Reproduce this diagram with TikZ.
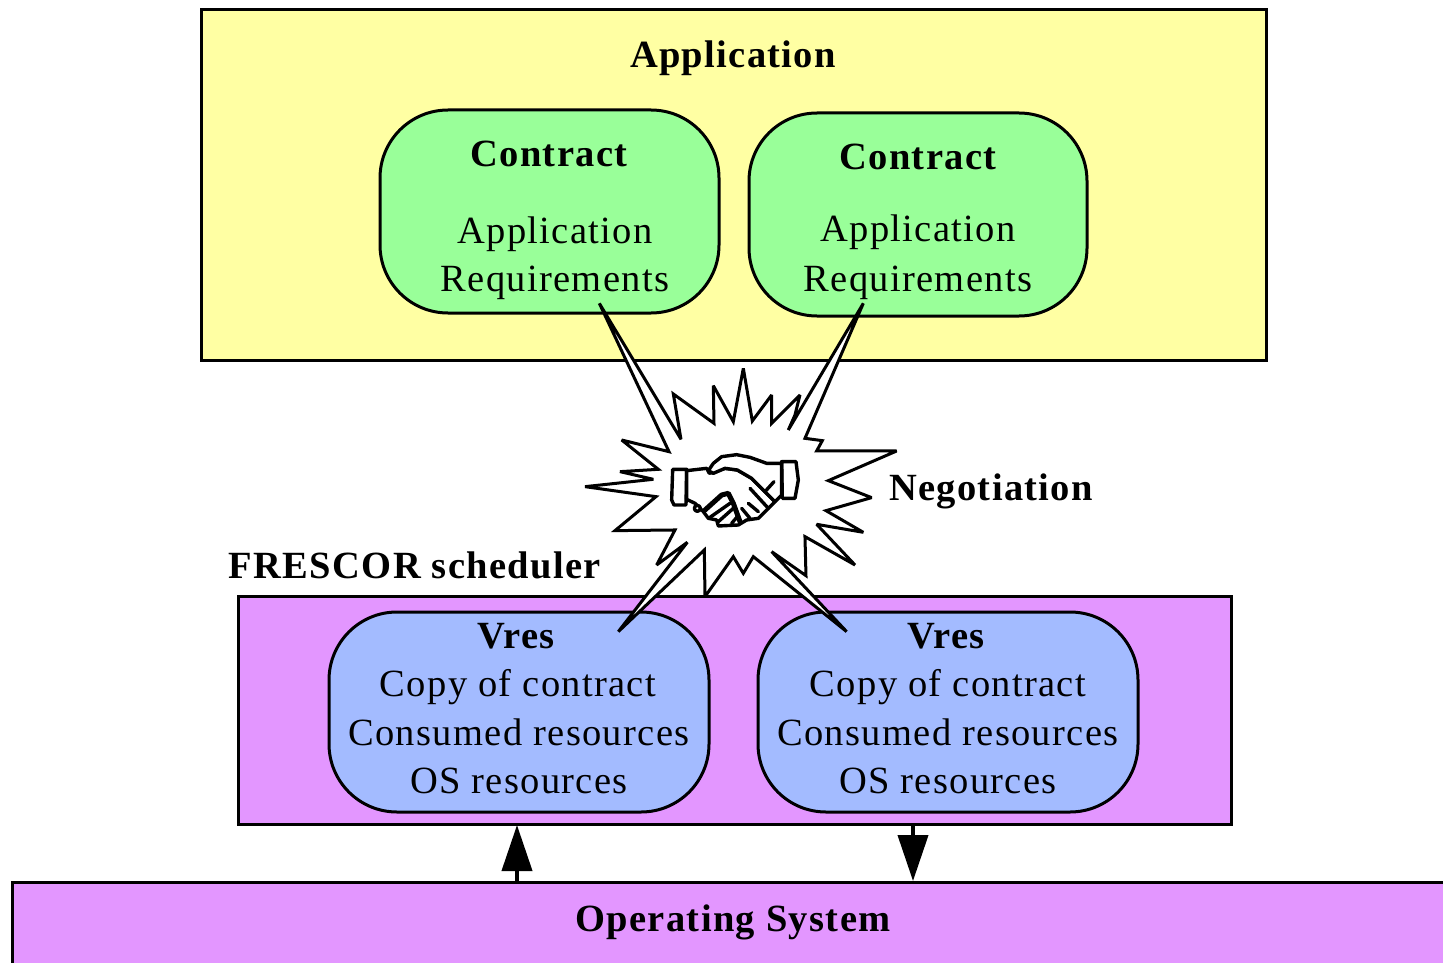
\documentclass[tikz,border=0pt]{standalone}
\usepackage{fontspec}
\setmainfont[LetterSpace=3.5]{Liberation Serif}
\usetikzlibrary{arrows.meta}
\definecolor{appyellow}{HTML}{FFFFA3}
\definecolor{contractgreen}{HTML}{99FF99}
\definecolor{schedviolet}{HTML}{E396FF}
\definecolor{vresblue}{HTML}{A3BBFF}
\tikzset{
  pane/.style={draw=black,line width=3pt,rectangle,inner sep=0pt,outer sep=0pt},
  pill/.style={draw=black,line width=3pt,rectangle,rounded corners=68pt,inner sep=0pt,outer sep=0pt},
  txt/.style={anchor=base,inner sep=0pt,font=\fontsize{38.5}{40}\selectfont},
  bold/.style={anchor=base,inner sep=0pt,font=\fontsize{38.5}{40}\selectfont\bfseries},
  burst/.style={draw=black,fill=white,line width=3pt,line join=miter,miter limit=3},
  hand/.style={draw=black,line width=3.4pt,line join=round,line cap=round},
  link/.style={draw=black,line width=4pt,-{Triangle[length=46pt,width=30pt,sep=0pt]}},
}
\begin{document}
\begin{tikzpicture}[x=1pt,y=-1pt]
\useasboundingbox (0,0) rectangle (1443,963);
\clip (0,0) rectangle (1443,963);
% panes
\node[pane,fill=appyellow,minimum width=1065pt,minimum height=350pt] (app) at (733.5,185) {};
\node[pane,fill=schedviolet,minimum width=993pt,minimum height=228pt] (sched) at (734.5,710) {};
\node[pane,fill=schedviolet,minimum width=1500pt,minimum height=200pt] (os) at (762,982) {};
% contracts
\node[pill,fill=contractgreen,minimum width=339pt,minimum height=203pt] (c1) at (549.5,211.5) {};
\node[pill,fill=contractgreen,minimum width=338pt,minimum height=203pt] (c2) at (918,214.5) {};
% vres
\node[pill,fill=vresblue,minimum width=380pt,minimum height=200pt] (v1) at (519,712) {};
\node[pill,fill=vresblue,minimum width=380pt,minimum height=200pt] (v2) at (948,712) {};
% arrows
\coordinate (a1s) at (517,882);
\coordinate (a1e) at (517,825);
\coordinate (a2s) at (913,825);
\coordinate (a2e) at (913,881);
\draw[link] (a1s) -- (a1e);
\draw[link] (a2s) -- (a2e);
% burst
\begin{scope}[shift={(570,290)},x=0.3333pt,y=-0.3333pt]
\draw[burst] (88,40) -- (333,448) -- (310,312) -- (432,400) -- (430,287) -- (490,395) -- (520,235) -- (547,393) -- (605,315) -- (605,400) -- (690,315) -- (675,375) -- (655,420) -- (880,40) -- (705,445) -- (757,452) -- (740,483) -- (980,483) -- (775,572) -- (905,623) -- (768,662) -- (880,727) -- (740,703) -- (855,825) -- (705,740) -- (708,857) -- (605,785) -- (830,1025) -- (550,800) -- (520,850) -- (490,800) -- (405,920) -- (403,780) -- (145,1025) -- (352,757) -- (260,825) -- (315,720) -- (135,722) -- (258,620) -- (45,590) -- (250,568) -- (150,545) -- (265,538) -- (155,450) -- (297,485) -- cycle;
\end{scope}
% handshake
\begin{scope}[shift={(650,440)},x=0.3333pt,y=-0.3333pt]
\draw[hand,fill=white] (68,88) -- (110,88) -- (108,195) -- (72,195) -- (65,180) -- cycle;
\draw[hand,fill=white] (395,65) -- (438,65) -- (445,120) -- (435,175) -- (397,175) -- cycle;
\draw[hand,fill=white] (110,92) -- (170,85) -- (178,100) -- (225,85) -- (262,90) -- (305,115) -- (345,155) -- (375,185) -- (350,210) -- (325,235) -- (290,240) -- (265,255) -- (205,258) -- (200,240) -- (175,235) -- (160,215) -- (135,190) -- (110,178) -- cycle;
\draw[hand,fill=white] (395,70) -- (350,70) -- (300,52) -- (260,44) -- (215,50) -- (190,70) -- (175,92) -- (190,100) -- (225,85) -- (262,90) -- (305,115) -- (345,155) -- (375,185) -- (395,165) -- cycle;
\draw[hand,fill=white] (142,205) circle (9);
\draw[hand,line width=5pt] (165,210) -- (215,165) -- (235,160) -- (250,190) -- (270,245);
\draw[hand] (180,232) -- (240,190);
\draw[hand] (205,245) -- (250,205);
\draw[hand] (245,250) -- (262,230);
\draw[hand] (300,145) -- (355,205);
\draw[hand] (295,190) -- (325,215);
\draw[hand] (275,205) -- (300,235);
\draw[hand] (345,155) -- (372,125);
\end{scope}
% labels
\node[bold] (tapp) at (733,68) {Application};
\node[bold] (tc1) at (549,166) {Contract};
\node[txt] (ta1) at (555,243) {Application};
\node[txt] (tr1) at (555,291) {Requirements};
\node[bold] (tc2) at (918,170) {Contract};
\node[txt] (ta2) at (918,241) {Application};
\node[txt] (tr2) at (918,291) {Requirements};
\node[bold] (tneg) at (991,500) {Negotiation};
\node[bold] (tfre) at (415,578) {FRESCOR scheduler};
\node[bold] (tv1) at (516,648) {Vres};
\node[txt] (tcp1) at (518,696) {Copy of contract};
\node[txt] (tcr1) at (519,745) {Consumed resources};
\node[txt] (tos1) at (519,793) {OS resources};
\node[bold] (tv2) at (946,648) {Vres};
\node[txt] (tcp2) at (948,696) {Copy of contract};
\node[txt] (tcr2) at (948,745) {Consumed resources};
\node[txt] (tos2) at (948,793) {OS resources};
\node[bold] (tos) at (733,931) {Operating System};
\end{tikzpicture}
\end{document}
